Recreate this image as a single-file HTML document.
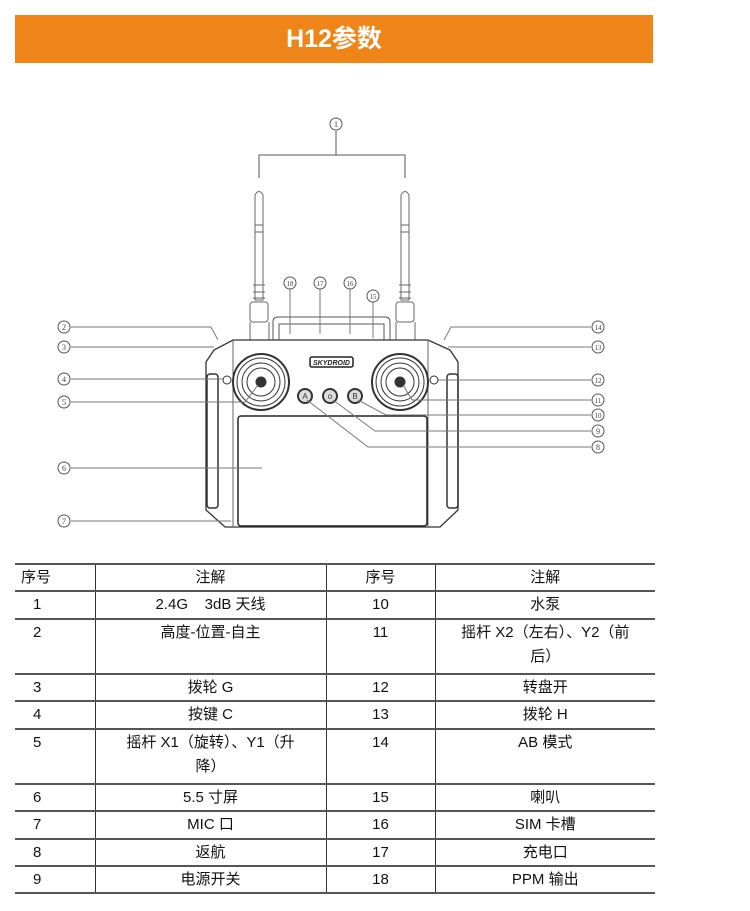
<!DOCTYPE html>
<html><head><meta charset="utf-8"><style>
body{margin:0;background:#fff;width:750px;height:911px;overflow:hidden;position:relative;font-family:"Liberation Sans","Noto Sans CJK SC",sans-serif;}
.hdr{position:absolute;left:15px;top:15px;width:638px;height:48px;background:#ef8519;color:#fff;font-weight:bold;font-size:25px;text-align:center;line-height:48px;}
svg{position:absolute;left:0;top:0}
table{position:absolute;left:15px;top:563px;width:640px;border-collapse:collapse;font-size:15px;color:#111;}
td{border-top:2px solid #555;border-bottom:2px solid #555;padding:1px 0 0 0;vertical-align:top;line-height:24px;text-align:center;}
td+td{border-left:1.5px solid #333;}
td.n{text-align:left;padding-left:18px;}
</style></head><body>
<div class="hdr">H12参数</div>
<svg width="750" height="560" viewBox="0 0 750 560" fill="none" stroke="#555" stroke-width="1">
<path d="M259 178V155H405V178M336 155V131"/>
<g stroke="#666">
<path d="M255 300V195Q259 188 263 195V300Z"/>
<path d="M255 225H263M255 232H263M253 285H265M253 292H265M253 298H265"/>
<path d="M401 300V195Q405 188 409 195V300Z"/>
<path d="M401 225H409M401 232H409M399 285H411M399 292H411M399 298H411"/>
<rect x="250" y="302" width="18" height="20" rx="3"/><rect x="396" y="302" width="18" height="20" rx="3"/>
<path d="M250 322V340H269V322M396 322V340H415V322"/>
</g>
<path d="M273 340V322Q273 317 278 317H385Q390 317 390 322V340M279 340V324H384V340" stroke="#555"/>
<path d="M233 340H428L450 350L458 362V510L440 527H225L206 510V362L214 350Z" stroke="#333" stroke-width="1.3"/>
<path d="M233 340V527M428 340V527" stroke="#666"/>
<rect x="207" y="374" width="11" height="134" rx="3" stroke="#333" stroke-width="1.5"/>
<rect x="447" y="374" width="11" height="134" rx="3" stroke="#333" stroke-width="1.5"/>
<rect x="238" y="416" width="189" height="110" rx="3" stroke="#222" stroke-width="1.5"/>
<g stroke="#333">
<circle cx="261" cy="382" r="28" stroke-width="2"/><circle cx="261" cy="382" r="24"/><circle cx="261" cy="382" r="19"/><circle cx="261" cy="382" r="14"/><circle cx="261" cy="382" r="5" fill="#333"/>
<circle cx="400" cy="382" r="28" stroke-width="2"/><circle cx="400" cy="382" r="24"/><circle cx="400" cy="382" r="19"/><circle cx="400" cy="382" r="14"/><circle cx="400" cy="382" r="5" fill="#333"/>
<circle cx="227" cy="380" r="4"/><circle cx="434" cy="380" r="4"/>
<circle cx="305" cy="396" r="7" stroke-width="2" fill="#ddd"/><circle cx="330" cy="396" r="7" stroke-width="2" fill="#ddd"/><circle cx="355" cy="396" r="7" stroke-width="2" fill="#ddd"/>
</g>
<rect x="310" y="357" width="43" height="10" rx="2" stroke="#222" stroke-width="1.5"/>
<text x="331.5" y="365" font-size="7" font-weight="bold" fill="#222" stroke="none" text-anchor="middle" font-style="italic">SKYDROID</text>
<g font-size="8" fill="#333" stroke="none" text-anchor="middle"><text x="305" y="399">A</text><text x="330" y="399">o</text><text x="355" y="399">B</text></g>
<g stroke="#777">
<path d="M71 327H211L218 340M71 347H214M71 379H223M71 402H245L258 385M71 468H262M71 521H231"/>
<path d="M591 327H451L444 340M591 347H448M591 380H438M591 400H412L403 385M591 415H386L358 400M591 431H375L333 400M591 447H368L307 400"/>
<path d="M290 289V334M320 289V334M350 289V334M373 302V338"/>
</g>
<g stroke="#555" fill="#fff">
<circle cx="336" cy="124" r="6"/>
<circle cx="64" cy="327" r="6"/><circle cx="64" cy="347" r="6"/><circle cx="64" cy="379" r="6"/><circle cx="64" cy="402" r="6"/><circle cx="64" cy="468" r="6"/><circle cx="64" cy="521" r="6"/>
<circle cx="598" cy="327" r="6"/><circle cx="598" cy="347" r="6"/><circle cx="598" cy="380" r="6"/><circle cx="598" cy="400" r="6"/><circle cx="598" cy="415" r="6"/><circle cx="598" cy="431" r="6"/><circle cx="598" cy="447" r="6"/>
<circle cx="290" cy="283" r="6"/><circle cx="320" cy="283" r="6"/><circle cx="350" cy="283" r="6"/><circle cx="373" cy="296" r="6"/>
</g>
<g font-family="Liberation Serif, serif" font-size="8" fill="#444" stroke="none" text-anchor="middle">
<text x="336" y="127">1</text>
<text x="64" y="330">2</text><text x="64" y="350">3</text><text x="64" y="382">4</text><text x="64" y="405">5</text><text x="64" y="471">6</text><text x="64" y="524">7</text>
<text x="598" y="330" font-size="7">14</text><text x="598" y="350" font-size="7">13</text><text x="598" y="383" font-size="7">12</text><text x="598" y="403" font-size="7">11</text><text x="598" y="418" font-size="7">10</text><text x="598" y="434">9</text><text x="598" y="450">8</text>
<text x="290" y="286" font-size="7">18</text><text x="320" y="286" font-size="7">17</text><text x="350" y="286" font-size="7">16</text><text x="373" y="299" font-size="7">15</text>
</g>
</svg>
<table>
<colgroup><col style="width:80px"><col style="width:231px"><col style="width:109px"><col style="width:220px"></colgroup>
<tr style="height:27px"><td class="n" style="padding-left:6px">序号</td><td>注解</td><td>序号</td><td>注解</td></tr>
<tr style="height:28px"><td class="n">1</td><td>2.4G&nbsp;&nbsp;&nbsp; 3dB 天线</td><td>10</td><td>水泵</td></tr>
<tr style="height:55px"><td class="n">2</td><td>高度-位置-自主</td><td>11</td><td>摇杆 X2（左右）、Y2（前<br>后）</td></tr>
<tr style="height:27px"><td class="n">3</td><td>拨轮 G</td><td>12</td><td>转盘开</td></tr>
<tr style="height:28px"><td class="n">4</td><td>按键 C</td><td>13</td><td>拨轮 H</td></tr>
<tr style="height:55px"><td class="n">5</td><td>摇杆 X1（旋转）、Y1（升<br>降）</td><td>14</td><td>AB 模式</td></tr>
<tr style="height:27px"><td class="n">6</td><td>5.5 寸屏</td><td>15</td><td>喇叭</td></tr>
<tr style="height:28px"><td class="n">7</td><td>MIC 口</td><td>16</td><td>SIM 卡槽</td></tr>
<tr style="height:27px"><td class="n">8</td><td>返航</td><td>17</td><td>充电口</td></tr>
<tr style="height:27px"><td class="n">9</td><td>电源开关</td><td>18</td><td>PPM 输出</td></tr>
</table>
</body></html>
